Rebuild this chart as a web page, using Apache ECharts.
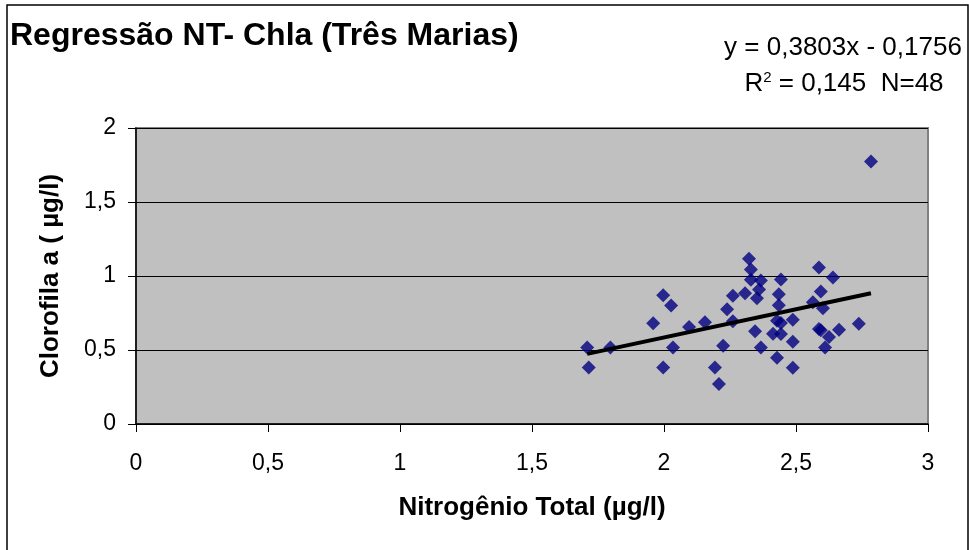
<!DOCTYPE html>
<html>
<head>
<meta charset="utf-8">
<script src="https://cdn.jsdelivr.net/npm/echarts@6/dist/echarts.min.js"></script>
<style>
html,body{margin:0;padding:0;background:#fff;}
#chart{width:969px;height:550px;}
</style>
</head>
<body>
<div id="chart"></div>
<script>
// Data
var ntValues = [1.709,1.715,1.797,1.959,1.997,2.027,1.997,2.034,2.095,2.155,2.193,2.208,2.224,2.239,2.261,2.261,2.307,2.322,2.329,2.329,2.345,2.367,2.360,2.352,2.443,2.435,2.435,2.428,2.443,2.488,2.413,2.443,2.367,2.488,2.428,2.488,2.587,2.640,2.594,2.564,2.602,2.587,2.594,2.663,2.625,2.610,2.738,2.784];
var chlaValues = [0.517,0.382,0.517,0.680,0.870,0.800,0.382,0.517,0.655,0.687,0.382,0.271,0.529,0.775,0.866,0.694,0.884,1.117,1.044,0.974,0.626,0.969,0.908,0.850,0.976,0.877,0.802,0.698,0.683,0.705,0.610,0.608,0.517,0.556,0.447,0.380,1.058,0.990,0.895,0.823,0.782,0.642,0.633,0.637,0.588,0.517,0.678,1.774];
var trendX = [1.709, 2.784];
var trendY = [0.474, 0.883];
var xTicks = [0, 0.5, 1, 1.5, 2, 2.5, 3];
var yTicks = [0, 0.5, 1, 1.5, 2];
var titleText = 'Regressão NT- Chla (Três Marias)';
var eqLine1 = 'y = 0,3803x - 0,1756';
var xName = 'Nitrogênio Total (µg/l)';
var yName = 'Clorofila a ( µg/l)';

var FONT = "'Liberation Sans', Arial, sans-serif";
var points = ntValues.map(function (x, i) { return [x, chlaValues[i]]; });
var trend = trendX.map(function (x, i) { return [x, trendY[i]]; });
function fmt(v) { return String(v).replace('.', ','); }

var chart = echarts.init(document.getElementById('chart'));
chart.setOption({
  backgroundColor: '#ffffff',
  animation: false,
  textStyle: { fontFamily: FONT },
  graphic: [
    { type: 'rect', shape: { x: 7, y: 5, width: 961, height: 600 }, style: { fill: 'none', stroke: '#000', lineWidth: 1.5 }, silent: true },
    { type: 'text', left: 10, top: 20, style: { text: titleText, font: "bold 32px " + FONT, fill: '#000' } },
    { type: 'text', x: 843, y: 35, style: { text: eqLine1, font: "26px " + FONT, fill: '#000', textAlign: 'center' } },
    { type: 'text', x: 844, y: 70, style: { text: '{r|R}{s|2}{r| = 0,145  N=48}', textAlign: 'center',
        rich: { r: { font: "26px " + FONT, fill: '#000', verticalAlign: 'bottom' }, s: { font: "15px " + FONT, fill: '#000', verticalAlign: 'top', padding: [0, 0, 12, 0] } } } }
  ],
  grid: { left: 136, right: 41, top: 128, bottom: 126, show: true, backgroundColor: '#c0c0c0', borderColor: '#808080', borderWidth: 2 },
  xAxis: {
    type: 'value', min: 0, max: 3, interval: 0.5,
    name: xName, nameLocation: 'middle', nameGap: 71,
    nameTextStyle: { fontFamily: FONT, fontWeight: 'bold', fontSize: 26, color: '#000' },
    axisLine: { onZero: false, lineStyle: { color: '#000', width: 1.5 } },
    axisTick: { show: true, inside: false, length: 8, lineStyle: { color: '#000' } },
    axisLabel: { margin: 28, fontFamily: FONT, fontSize: 23, color: '#000', formatter: function (v) { return xTicks.indexOf(v) >= 0 ? fmt(v) : ''; } },
    splitLine: { show: false }
  },
  yAxis: {
    type: 'value', min: 0, max: 2, interval: 0.5,
    name: yName, nameLocation: 'middle', nameGap: 72, nameRotate: 90,
    nameTextStyle: { fontFamily: FONT, fontWeight: 'bold', fontSize: 26, color: '#000' },
    axisLine: { show: true, onZero: false, lineStyle: { color: '#000', width: 1.5 } },
    axisTick: { show: true, inside: false, length: 8, lineStyle: { color: '#000' } },
    axisLabel: { margin: 20, fontFamily: FONT, fontSize: 23, color: '#000', formatter: function (v) { return yTicks.indexOf(v) >= 0 ? fmt(v) : ''; } },
    splitLine: { show: true, lineStyle: { color: '#000', width: 1 } }
  },
  series: [
    { type: 'scatter', data: points, symbol: 'diamond', symbolSize: 14, itemStyle: { color: '#000080' }, z: 3 },
    { type: 'line', data: trend, symbol: 'none', lineStyle: { color: '#000', width: 4 }, z: 4 }
  ]
});
</script>
</body>
</html>
